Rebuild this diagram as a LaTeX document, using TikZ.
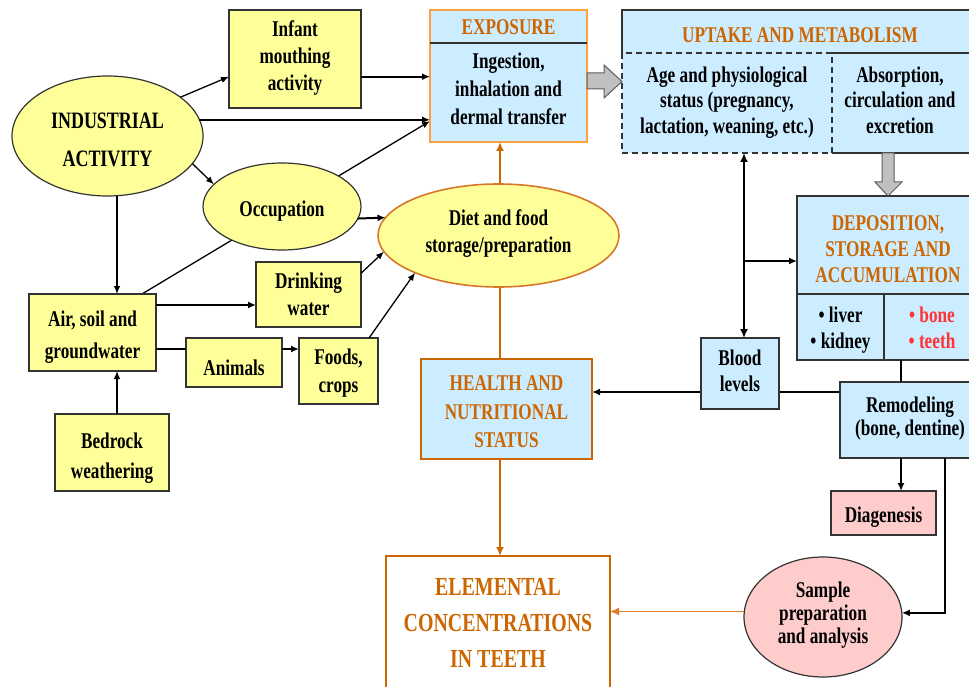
\documentclass[tikz,border=0pt]{standalone}
\usepackage{fontspec}
\setmainfont[FakeStretch=0.765]{Liberation Serif}
\usetikzlibrary{shapes.geometric,arrows.meta,backgrounds}
\definecolor{yel}{HTML}{FFFF99}
\definecolor{lblue}{HTML}{CCECFF}
\definecolor{pnk}{HTML}{FFCCCC}
\definecolor{ora}{RGB}{204,102,0}
\definecolor{lora}{RGB}{255,160,60}
\definecolor{dora}{RGB}{214,120,40}
\definecolor{sora}{RGB}{220,125,45}
\definecolor{redt}{HTML}{FF3333}
\definecolor{edge}{HTML}{333333}
\definecolor{gfill}{HTML}{C0C0C0}
\begin{document}
\begin{tikzpicture}[x=1pt,y=-1pt,
 every node/.style={outer sep=0pt,inner sep=0pt},
 shp/.style={rectangle,line width=1.2pt,draw=edge},
 ybox/.style={shp,fill=yel},
 bbox/.style={shp,fill=lblue},
 yell/.style={ellipse,draw=edge,line width=1.2pt,fill=yel},
 txt/.style={font=\bfseries\fontsize{22.5}{#1}\selectfont,align=center,text=black},
 htxt/.style={txt=#1,text=ora},
 conn/.style={line width=1.3pt,-{Latex[length=8pt,width=6.5pt]}},
 tconn/.style={line width=2pt,-{Latex[length=8pt,width=7pt]}},
 dconn/.style={line width=2pt,{Latex[length=9pt,width=8pt]}-{Latex[length=9pt,width=8pt]}},
 oconn/.style={line width=2pt,draw=ora,-{Latex[length=9pt,width=8pt]}},
 gar/.style={fill=gfill,draw=edge!80,line width=1pt}]
\useasboundingbox (0,0) rectangle (969,687);
\clip (0,0) rectangle (969,687);

% ---------- left side shapes ----------
\node[ybox,minimum width=132,minimum height=98] (infant) at (295,59) {};
\node[yell,minimum width=191,minimum height=120] (ind) at (107.5,136) {};
\node[yell,minimum width=158,minimum height=87] (occ) at (282,206.5) {};
\node[ellipse,draw=dora,line width=1.6pt,fill=yel,minimum width=241,minimum height=103] (diet) at (498.5,235.5) {};
\node[ybox,minimum width=127,minimum height=77] (air) at (92.5,332.5) {};
\node[ybox,minimum width=105,minimum height=65] (drink) at (308.5,294.5) {};
\node[ybox,minimum width=96,minimum height=49] (anim) at (234,362.5) {};
\node[ybox,minimum width=79,minimum height=66] (foods) at (338.5,371) {};
\node[ybox,minimum width=114,minimum height=77] (bed) at (112,452.5) {};

% ---------- exposure ----------
\node[rectangle,fill=lblue,minimum width=157,minimum height=33] (exphead) at (508.5,26.5) {};
\node[rectangle,fill=lblue,minimum width=157,minimum height=99] (expbody) at (508.5,92.5) {};
\draw[lora,line width=1.3pt] (exphead.north west) rectangle (expbody.south east);
\draw[edge,line width=1.2pt] (expbody.north west) -- (expbody.north east);

% ---------- uptake ----------
\node[rectangle,fill=lblue,minimum width=357,minimum height=43] (uphead) at (800.5,31.5) {};
\node[rectangle,fill=lblue,minimum width=147,minimum height=100] (upright) at (905.5,103) {};
\draw[edge,line width=1.2pt] (uphead.south west) -- (uphead.north west) -- (uphead.north east);
\draw[edge,line width=1.2pt] (upright.north west) -- (upright.north east);
\draw[edge,line width=1.2pt] (upright.south west) -- (upright.south east);
\node[rectangle,fill=lblue,draw=edge,line width=1.2pt,dash pattern=on 6pt off 4pt,minimum width=210,minimum height=100] (upleft) at (727,103) {};

% ---------- deposition ----------
\node[bbox,minimum width=182,minimum height=98] (dephead) at (888,245) {};
\node[bbox,minimum width=87,minimum height=66] (depL) at (840.5,327) {};
\node[bbox,minimum width=95,minimum height=66] (depR) at (931.5,327) {};
\node[bbox,minimum width=78,minimum height=71] (blood) at (740,373.5) {};
\node[bbox,minimum width=139,minimum height=76] (remod) at (909.5,420) {};
\node[shp,fill=pnk,minimum width=105,minimum height=44] (diag) at (883.5,513) {};
\node[ellipse,draw=edge,line width=1.2pt,fill=pnk,minimum width=158,minimum height=120] (samp) at (823,617) {};

% ---------- health / elemental ----------
\node[rectangle,draw=ora,line width=2.5pt,fill=lblue,minimum width=171,minimum height=100] (health) at (506.5,409) {};
\node[rectangle,draw=ora,line width=2.5pt,fill=white,minimum width=224,minimum height=144] (elem) at (498,628) {};

% ---------- texts ----------
\node[txt=27] (infant-t) at (295,58) {\strut Infant\\\strut mouthing\\\strut activity};
\node[txt=38,font=\bfseries\fontsize{23.5}{38}\selectfont] (ind-t) at (107.5,140) {\strut INDUSTRIAL\\\strut ACTIVITY};
\node[txt=27] (occ-t) at (282,211) {\strut Occupation};
\node[txt=27] (diet-t) at (498.5,233.5) {\strut Diet and food\\\strut storage/preparation};
\node[txt=32] (air-t) at (92.5,336) {\strut Air, soil and\\\strut groundwater};
\node[txt=27] (drink-t) at (308.5,296.5) {\strut Drinking\\\strut water};
\node[txt=27] (anim-t) at (234,370) {\strut Animals};
\node[txt=28] (foods-t) at (338.5,373) {\strut Foods,\\\strut crops};
\node[txt=30] (bed-t) at (112,457) {\strut Bedrock\\\strut weathering};
\node[htxt=27] (exphead-t) at (508.5,29.5) {\strut EXPOSURE};
\node[txt=28] (expbody-t) at (508.5,91) {\strut Ingestion,\\\strut inhalation and\\\strut dermal transfer};
\node[htxt=27] (uphead-t) at (800,37) {\strut UPTAKE AND METABOLISM};
\node[txt=25.5] (upleft-t) at (727,102.5) {\strut Age and physiological\\\strut status (pregnancy,\\\strut lactation, weaning, etc.)};
\node[txt=25.5] (upright-t) at (900,102.5) {\strut Absorption,\\\strut circulation and\\\strut excretion};
\node[htxt=26] (dephead-t) at (888,251) {\strut DEPOSITION,\\\strut STORAGE AND\\\strut ACCUMULATION};
\node[txt=26] (depL-t) at (840.5,330) {\strut • liver\\\strut • kidney};
\node[txt=26,text=redt] (depR-t) at (932,330) {\strut • bone\\\strut • teeth};
\node[txt=26] (blood-t) at (740,373) {\strut Blood\\\strut levels};
\node[txt=23] (remod-t) at (910,419.5) {\strut Remodeling\\\strut (bone, dentine)};
\node[txt=27] (diag-t) at (883.5,517) {\strut Diagenesis};
\node[txt=23] (samp-t) at (823,616) {\strut Sample\\\strut preparation\\\strut and analysis};
\node[htxt=28.5] (health-t) at (506.5,413.5) {\strut HEALTH AND\\\strut NUTRITIONAL\\\strut STATUS};
\node[txt=36,text=ora,font=\bfseries\fontsize{26}{36}\selectfont] (elem-t) at (498,624) {\strut ELEMENTAL\\\strut CONCENTRATIONS\\\strut IN TEETH};

% ---------- coordinates for connectors ----------
\coordinate (c1) at (infant.345.6);
\coordinate (c2) at (ind.10.5);
\coordinate (a1) at ([xshift=24.5pt]air.north);
\coordinate (b1) at ([xshift=5pt]bed.north);
\coordinate (a2) at ([xshift=49.5pt]air.north);
\coordinate (a3) at ([yshift=27.5pt]air.east);
\coordinate (a4) at ([yshift=-16.5pt]air.east);
\coordinate (a5) at ([yshift=13.5pt]anim.east);
\coordinate (f1) at ([xshift=30.5pt]foods.north);
\coordinate (h1) at ([xshift=-6.5pt]health.north);
\coordinate (h2) at ([xshift=-6.5pt]health.south);
\coordinate (v1) at ([xshift=17pt]upleft.south);
\coordinate (d1) at ([yshift=-16pt]dephead.west);
\coordinate (r1) at ([yshift=28pt]remod.west);
\coordinate (r2) at ([xshift=-30.5pt]depR.south);
\coordinate (r3) at ([xshift=-8.5pt]remod.south);
\coordinate (r4) at ([xshift=35.5pt]remod.south);
\coordinate (s1) at (samp.176.4);
\coordinate (g1) at ([yshift=11.5pt]expbody.east);
\coordinate (g2) at (dephead.north |- upright.south);

% ---------- connectors behind nodes ----------
\begin{scope}[on background layer]
\draw[conn] (a2) -- (expbody.200.6);
\draw[oconn] (h1) -- (h1 |- expbody.south);
\draw[tconn] (r1) -- (r1 -| health.east);
\end{scope}

% ---------- connectors ----------
\draw[conn] (ind.28) -- (infant.195.3);
\draw[tconn] (c1) -- (c1 -| expbody.west);
\draw[tconn] (c2) -- (c2 -| expbody.west);
\draw[conn] (ind.342.9) -- (occ.162.2);
\draw[conn] (a1 |- ind.south) -- (a1);
\draw[conn] (b1) -- (b1 |- air.south);
\draw[tconn] (occ.351.4) -- (diet.171.3);
\draw[tconn] (a3) -- (a3 -| drink.west);
\draw[conn] (drink.22.3) -- (diet.188.5);
\draw[line width=2pt] (a4) -- (a4 -| anim.west);
\draw[tconn] (a5) -- (a5 -| foods.west);
\draw[conn] (f1) -- (diet.204.4);
\draw[oconn] (h2) -- (h2 |- elem.north);
\draw[dconn] (v1) -- (v1 |- blood.north);
\draw[tconn] (d1 -| v1) -- (d1);
\draw[line width=1.6pt] (r2) -- (r2 |- remod.north);
\draw[tconn] (r3) -- (r3 |- diag.north);
\draw[tconn] (r4) |- (samp.3.6);
\draw[line width=1.5pt,draw=sora,-{Latex[length=9pt,width=8pt]}] (s1) -- (s1 -| elem.east);

% ---------- gray block arrows ----------
\filldraw[gar] (g1) ++(0,-8) -- ++(17,0) -- ++(0,-8) -- ++(18,16.5) -- ++(-18,16.5) -- ++(0,-9) -- ++(-17,0) -- cycle;
\filldraw[gar] (g2) ++(-6,0) -- ++(0,29) -- ++(-7,0) -- ++(13,14) -- ++(14,-14) -- ++(-8,0) -- ++(0,-29) -- cycle;
\end{tikzpicture}
\end{document}
